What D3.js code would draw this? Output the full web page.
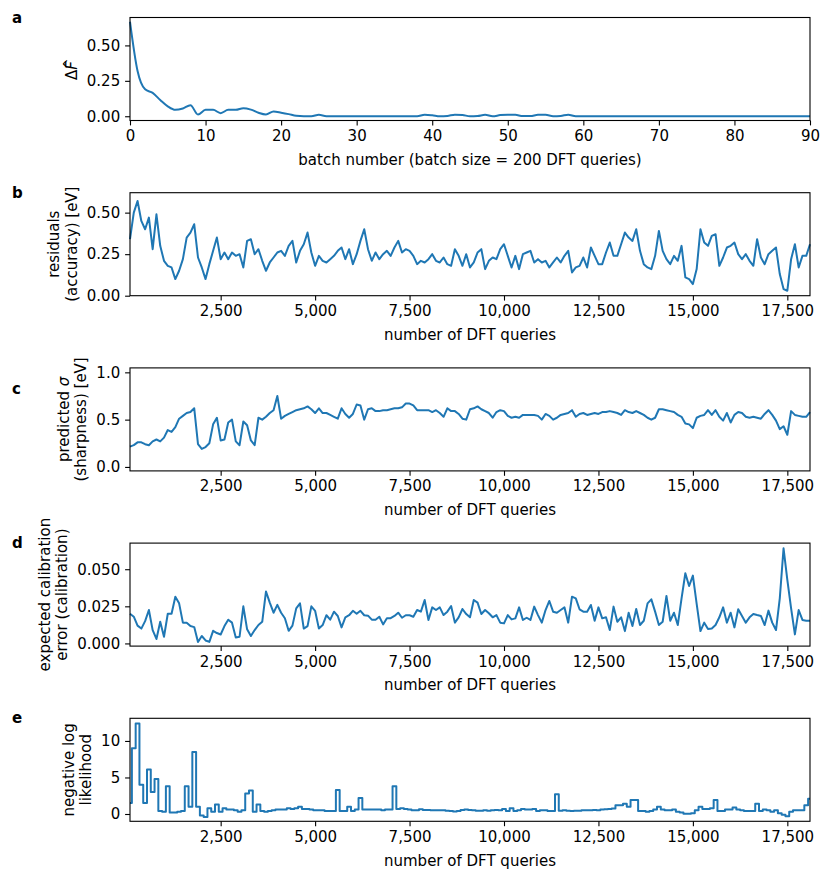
<!DOCTYPE html>
<html>
<head>
<meta charset="utf-8">
<script src="https://cdn.jsdelivr.net/npm/d3@7"></script>
<style>
  body { margin: 0; background: #fff; }
  text { font-family: "DejaVu Sans", sans-serif; }
</style>
</head>
<body>
<svg id="chart" width="831" height="880"></svg>
<script>
// x grids
var batchNumbers = d3.range(0, 91);
var queries = d3.range(100, 18101, 100);

// a: change in F-hat per batch
var deltaF = [0.667, 0.32, 0.19, 0.165, 0.115, 0.07, 0.045, 0.055, 0.078, 0.012,
  0.045, 0.045, 0.022, 0.045, 0.045, 0.057, 0.047, 0.025, 0.013, 0.033,
  0.025, 0.015, 0.003, 0, 0, 0.01, 0, 0, 0, 0,
  0, 0, 0, 0, 0, 0, 0, 0, 0, 0.011,
  0.007, 0, 0.002, 0.011, 0.009, 0, 0.002, 0.01, 0, 0.008,
  0.011, 0.01, 0.001, 0.001, 0.01, 0.01, 0, 0.002, 0.011, 0,
  0, 0, 0, 0, 0, 0, 0, 0, 0, 0,
  0, 0, 0, 0, 0, 0, 0, 0, 0, 0,
  0, 0, 0, 0, 0, 0, 0, 0, 0, 0, 0];

// b: residuals (accuracy) [eV]
var residuals = [0.34, 0.50, 0.57, 0.45, 0.40, 0.47, 0.28, 0.49, 0.30, 0.21,
  0.18, 0.17, 0.10, 0.15, 0.22, 0.35, 0.38, 0.43, 0.23, 0.17,
  0.10, 0.19, 0.27, 0.35, 0.22, 0.26, 0.22, 0.26, 0.24, 0.25,
  0.17, 0.33, 0.34, 0.25, 0.28, 0.21, 0.15, 0.20, 0.23, 0.26,
  0.27, 0.24, 0.30, 0.33, 0.20, 0.27, 0.31, 0.38, 0.26, 0.18,
  0.24, 0.21, 0.20, 0.22, 0.24, 0.27, 0.29, 0.22, 0.28, 0.19,
  0.25, 0.33, 0.40, 0.28, 0.21, 0.26, 0.22, 0.25, 0.27, 0.24,
  0.29, 0.33, 0.26, 0.28, 0.27, 0.24, 0.19, 0.21, 0.20, 0.22,
  0.25, 0.21, 0.20, 0.23, 0.19, 0.18, 0.28, 0.24, 0.18, 0.25,
  0.17, 0.20, 0.26, 0.28, 0.16, 0.21, 0.23, 0.22, 0.28, 0.31,
  0.24, 0.17, 0.24, 0.16, 0.25, 0.26, 0.27, 0.20, 0.22, 0.20,
  0.21, 0.17, 0.20, 0.23, 0.20, 0.24, 0.27, 0.14, 0.17, 0.18,
  0.23, 0.17, 0.29, 0.24, 0.19, 0.19, 0.26, 0.32, 0.24, 0.24,
  0.31, 0.38, 0.35, 0.33, 0.40, 0.27, 0.19, 0.17, 0.16, 0.24,
  0.39, 0.27, 0.22, 0.19, 0.24, 0.21, 0.30, 0.11, 0.10, 0.07,
  0.16, 0.40, 0.32, 0.30, 0.36, 0.37, 0.18, 0.23, 0.29, 0.30,
  0.32, 0.25, 0.22, 0.25, 0.21, 0.18, 0.34, 0.23, 0.19, 0.25,
  0.27, 0.29, 0.13, 0.04, 0.03, 0.22, 0.31, 0.17, 0.24, 0.24,
  0.31];

// c: predicted sigma (sharpness) [eV]
var sharpness = [0.215, 0.23, 0.26, 0.26, 0.24, 0.23, 0.27, 0.29, 0.27, 0.31,
  0.39, 0.37, 0.42, 0.51, 0.54, 0.57, 0.58, 0.62, 0.24, 0.19,
  0.21, 0.25, 0.45, 0.52, 0.28, 0.29, 0.47, 0.50, 0.27, 0.23,
  0.48, 0.44, 0.28, 0.23, 0.52, 0.50, 0.53, 0.57, 0.60, 0.75,
  0.51, 0.54, 0.56, 0.58, 0.60, 0.61, 0.62, 0.64, 0.61, 0.57,
  0.62, 0.57, 0.57, 0.55, 0.53, 0.51, 0.62, 0.56, 0.52, 0.56,
  0.66, 0.65, 0.50, 0.61, 0.62, 0.59, 0.59, 0.60, 0.60, 0.61,
  0.62, 0.62, 0.63, 0.67, 0.67, 0.65, 0.60, 0.60, 0.60, 0.60,
  0.58, 0.60, 0.57, 0.53, 0.62, 0.59, 0.59, 0.56, 0.51, 0.50,
  0.61, 0.62, 0.64, 0.61, 0.59, 0.57, 0.52, 0.58, 0.60, 0.59,
  0.54, 0.52, 0.53, 0.52, 0.55, 0.55, 0.55, 0.55, 0.54, 0.50,
  0.56, 0.54, 0.50, 0.52, 0.55, 0.56, 0.57, 0.60, 0.53, 0.56,
  0.57, 0.55, 0.56, 0.57, 0.56, 0.58, 0.58, 0.59, 0.58, 0.57,
  0.55, 0.60, 0.58, 0.57, 0.59, 0.57, 0.55, 0.52, 0.50, 0.52,
  0.61, 0.61, 0.60, 0.59, 0.58, 0.55, 0.53, 0.46, 0.45, 0.41,
  0.52, 0.54, 0.55, 0.60, 0.55, 0.60, 0.53, 0.49, 0.57, 0.47,
  0.55, 0.58, 0.57, 0.53, 0.52, 0.53, 0.52, 0.51, 0.56, 0.60,
  0.55, 0.49, 0.40, 0.43, 0.34, 0.59, 0.55, 0.54, 0.53, 0.53,
  0.58];

// d: expected calibration error
var calibration = [0.020, 0.018, 0.012, 0.010, 0.015, 0.0225, 0.009, 0.003, 0.0146, 0.0045,
  0.020, 0.020, 0.0315, 0.027, 0.014, 0.014, 0.0117, 0.011, 0.001, 0.005,
  0.002, 0.001, 0.0085, 0.007, 0.006, 0.0117, 0.016, 0.014, 0.004, 0.0045,
  0.025, 0.0095, 0.005, 0.009, 0.0124, 0.0146, 0.035, 0.0275, 0.0207, 0.026,
  0.0207, 0.017, 0.0085, 0.012, 0.0236, 0.027, 0.010, 0.0117, 0.025, 0.022,
  0.010, 0.0124, 0.019, 0.016, 0.0214, 0.0185, 0.0108, 0.0176, 0.019, 0.022,
  0.020, 0.022, 0.019, 0.0187, 0.016, 0.016, 0.018, 0.0128, 0.017, 0.017,
  0.0185, 0.0207, 0.0173, 0.019, 0.019, 0.018, 0.0225, 0.0214, 0.0293, 0.0158,
  0.0243, 0.0225, 0.0243, 0.0191, 0.0214, 0.0252, 0.0140, 0.0176, 0.0232, 0.0198,
  0.0176, 0.0293, 0.0275, 0.0198, 0.0225, 0.0203, 0.0176, 0.0191, 0.0140, 0.0135,
  0.0191, 0.0162, 0.0169, 0.0243, 0.0158, 0.0173, 0.0158, 0.0248, 0.0191, 0.0140,
  0.0225, 0.0286, 0.0214, 0.0207, 0.0225, 0.0243, 0.0140, 0.0315, 0.0304, 0.0230,
  0.0214, 0.0214, 0.0259, 0.0153, 0.0243, 0.0169, 0.0176, 0.0090, 0.0248, 0.0146,
  0.0176, 0.0083, 0.0207, 0.0117, 0.0232, 0.0124, 0.0153, 0.0270, 0.0297, 0.0214,
  0.0124, 0.0146, 0.0320, 0.0153, 0.0207, 0.0124, 0.0304, 0.0473, 0.0387, 0.0457,
  0.0266, 0.0083, 0.0140, 0.0097, 0.0101, 0.0124, 0.0176, 0.0243, 0.0140, 0.0207,
  0.0108, 0.0230, 0.0185, 0.0140, 0.0176, 0.0198, 0.0191, 0.0185, 0.0124, 0.0221,
  0.0140, 0.0090, 0.0304, 0.0641, 0.0428, 0.0236, 0.0061, 0.0225, 0.0158, 0.0153,
  0.0153];

// e: negative log likelihood
var nll = [1.5, 9.0, 12.4, 4.0, 1.5, 6.1, 3.0, 4.8, 0.4, 0.3,
  3.8, 0.2, 0.2, 0.3, 0.4, 3.8, 1.0, 8.5, 1.0, -0.2,
  -0.4, 0.8, 0.3, 1.3, 0.3, 0.8, 0.6, 0.6, 0.5, 0.3,
  0.5, 2.8, 3.2, 0.3, 1.3, 0.4, 0.3, 0.4, 0.5, 0.6,
  0.6, 0.6, 0.8, 0.7, 0.8, 1.0, 0.7, 0.7, 0.6, 0.5,
  0.5, 0.5, 0.4, 0.4, 0.4, 3.3, 0.4, 0.4, 1.0, 0.4,
  0.6, 2.2, 0.6, 0.6, 0.6, 0.6, 0.6, 0.5, 0.6, 0.6,
  3.8, 0.7, 0.8, 0.7, 0.6, 0.5, 0.5, 0.65, 0.55, 0.55,
  0.5, 0.5, 0.5, 0.5, 0.45, 0.4, 0.35, 0.4, 0.55, 0.6,
  0.55, 0.5, 0.45, 0.45, 0.5, 0.45, 0.5, 0.55, 0.5, 0.7,
  0.4, 0.8, 0.4, 0.5, 0.7, 0.6, 0.6, 0.7, 0.4, 0.5,
  0.5, 0.4, 0.4, 2.7, 0.45, 0.5, 0.45, 0.4, 0.45, 0.45,
  0.5, 0.5, 0.5, 0.55, 0.5, 0.6, 0.65, 0.7, 0.75, 1.2,
  1.2, 1.4, 1.0, 1.9, 1.9, 0.4, 0.4, 0.3, 0.4, 0.6,
  1.0, 0.6, 0.5, 0.5, 0.6, 0.3, 0.2, 0.05, 0.05, 0.1,
  0.5, 1.0, 0.7, 0.7, 0.8, 1.9, 0.4, 0.4, 0.6, 0.6,
  0.9, 0.6, 0.5, 0.4, 0.4, 0.4, 1.4, 0.4, 0.6, 0.5,
  0.3, 0.5, 0.1, -0.1, -0.3, 0.3, 0.5, 0.5, 0.5, 1.2,
  2.1];

var batchTicks = [0, 10, 20, 30, 40, 50, 60, 70, 80, 90];
var queryTicks = [2500, 5000, 7500, 10000, 12500, 15000, 17500];

var left = 130, right = 810, ph = 103;
var fs = 15;
var blue = "#1f77b4";

var svg = d3.select("#chart");
svg.append("rect").attr("width", 831).attr("height", 880).attr("fill", "#fff");

var panels = [
  { letter: "a", top: 17.5, letterY: 23, xs: batchNumbers, ys: deltaF,
    xDomain: [0, 90], yDomain: [-0.03, 0.697], xTicks: batchTicks, xFmt: d3.format("d"),
    yTicks: [0, 0.25, 0.5], yFmt: d3.format(".2f"), curve: d3.curveMonotoneX,
    xlabel: "batch number (batch size = 200 DFT queries)",
    ylabel: [[["Δ", false], ["F", true], ["^", false, true]]] },
  { letter: "b", top: 192.7, letterY: 198, xs: queries, ys: residuals,
    xDomain: [100, 18100], yDomain: [0, 0.62], xTicks: queryTicks, xFmt: d3.format(","),
    yTicks: [0, 0.25, 0.5], yFmt: d3.format(".2f"), curve: d3.curveLinear,
    xlabel: "number of DFT queries",
    ylabel: [[["residuals", false]], [["(accuracy) [eV]", false]]] },
  { letter: "c", top: 367.9, letterY: 394, xs: queries, ys: sharpness,
    xDomain: [100, 18100], yDomain: [-0.042, 1.047], xTicks: queryTicks, xFmt: d3.format(","),
    yTicks: [0, 0.5, 1.0], yFmt: d3.format(".1f"), curve: d3.curveLinear,
    xlabel: "number of DFT queries",
    ylabel: [[["predicted ", false], ["σ", true]], [["(sharpness) [eV]", false]]] },
  { letter: "d", top: 543.1, letterY: 548, xs: queries, ys: calibration,
    xDomain: [100, 18100], yDomain: [-0.0018, 0.0676], xTicks: queryTicks, xFmt: d3.format(","),
    yTicks: [0, 0.025, 0.05], yFmt: d3.format(".3f"), curve: d3.curveLinear,
    xlabel: "number of DFT queries",
    ylabel: [[["expected calibration", false]], [["error (calibration)", false]]] },
  { letter: "e", top: 718.3, letterY: 723, xs: queries, ys: nll,
    xDomain: [100, 18100], yDomain: [-1.0, 13.1], xTicks: queryTicks, xFmt: d3.format(","),
    yTicks: [0, 5, 10], yFmt: d3.format("d"), curve: d3.curveStep,
    xlabel: "number of DFT queries",
    ylabel: [[["negative log", false]], [["likelihood", false]]] }
];

panels.forEach(function(p) {
  var x = d3.scaleLinear().domain(p.xDomain).range([left, right]);
  var y = d3.scaleLinear().domain(p.yDomain).range([p.top + ph, p.top]);
  var g = svg.append("g");

  // line
  var pts = p.xs.map(function(d, i) { return [d, p.ys[i]]; });
  var line = d3.line().x(function(d) { return x(d[0]); }).y(function(d) { return y(d[1]); }).curve(p.curve);
  g.append("path").datum(pts)
   .attr("d", line)
   .attr("fill", "none")
   .attr("stroke", blue)
   .attr("stroke-width", 2)
   .attr("stroke-linejoin", "round");

  // axes
  var xAxis = d3.axisBottom(x).tickValues(p.xTicks).tickFormat(p.xFmt).tickSize(4.9).tickPadding(4.9);
  var gx = g.append("g").attr("transform", "translate(0," + (p.top + ph) + ")").call(xAxis);
  var yAxis = d3.axisLeft(y).tickValues(p.yTicks).tickFormat(p.yFmt).tickSize(4.9).tickPadding(4.9);
  var gy = g.append("g").attr("transform", "translate(" + left + ",0)").call(yAxis);
  [gx, gy].forEach(function(a) {
    a.select(".domain").remove();
    a.selectAll("line").attr("stroke", "#000").attr("stroke-width", 1.1);
    a.selectAll("text").attr("font-size", fs).attr("fill", "#000")
     .attr("font-family", "DejaVu Sans, sans-serif");
  });

  // frame
  g.append("rect")
   .attr("x", left).attr("y", p.top)
   .attr("width", right - left).attr("height", ph)
   .attr("fill", "none").attr("stroke", "#000").attr("stroke-width", 1.1);

  // x label
  g.append("text")
   .attr("x", (left + right) / 2).attr("y", p.top + ph + 44.3)
   .attr("text-anchor", "middle").attr("font-size", fs)
   .text(p.xlabel);

  // y label, placed from the width of the tick labels
  var tickLeft = left + gy.node().getBBox().x;
  var cy = p.top + ph / 2;
  var n = p.ylabel.length;
  p.ylabel.forEach(function(segs, i) {
    var bx = tickLeft - 10 - (n - 1 - i) * 17.5;
    var t = g.append("text")
     .attr("transform", "translate(" + bx + "," + cy + ") rotate(-90)")
     .attr("text-anchor", "middle").attr("font-size", fs);
    segs.forEach(function(s) {
      var ts = t.append("tspan").attr("font-style", s[1] ? "italic" : "normal").text(s[0]);
      if (s[2]) ts.attr("dx", "-0.62em").attr("dy", "-0.22em").attr("font-size", fs * 0.9);
    });
  });

  // panel letter
  g.append("text")
   .attr("x", 12).attr("y", p.letterY)
   .attr("font-size", fs).attr("font-weight", "bold")
   .text(p.letter);
});
</script>
</body>
</html>
